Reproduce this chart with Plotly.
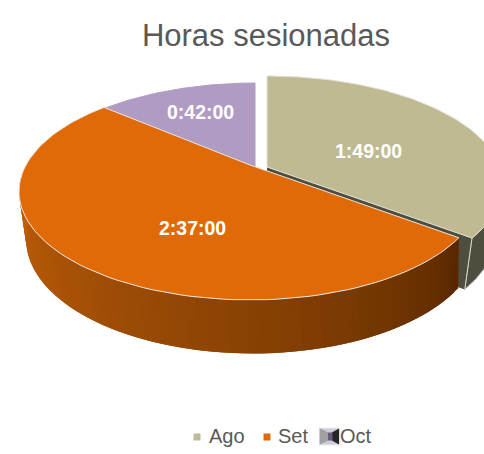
import numpy as np
import plotly.graph_objects as go

# horas sesionadas por mes, en minutos
months = ['Ago', 'Set', 'Oct']
minutes = [109, 157, 42]
labels = ['1:49:00', '2:37:00', '0:42:00']
colors = ['#C0BA93', '#E06A08', '#B09BC2']
wall_dark = '#4F4D3D'

W, H = 484, 454


def project(deg, r, plane):
    # circulo del pastel en perspectiva, angulo desde las 12 en sentido horario
    x0, y0, bx, ay, k = plane
    a = np.radians(deg)
    u, v = r * np.sin(a), -r * np.cos(a)
    w = 1 - k * v
    return x0 + bx * u / w, y0 + ay * v / w


def wedge(start, end, plane):
    ang = np.linspace(start, end, 90)
    x, y = project(ang, 1, plane)
    return [plane[0], *x, plane[0]], [plane[1], *y, plane[1]]


def poly(fig, x, y, fill, line=None, width=1):
    fig.add_trace(go.Scatter(x=x, y=y, mode='lines', fill='toself', fillcolor=fill,
                             line=dict(color=line or fill, width=width),
                             hoverinfo='skip', showlegend=False))


cuts = np.cumsum([0] + minutes) / sum(minutes) * 360

ago_top = (267, 167, 233, 105.6, 0.16)
ago_low = (266, 218, 226, 105.6, 0.16)
set_top = (250, 165, 224, 102, 0.244)
set_low = (253, 212, 220, 107, 0.244)
oct_top = (255, 168, 231, 105.7, 0.244)

fig = go.Figure()

# Oct
x, y = wedge(cuts[2], cuts[3], oct_top)
poly(fig, x, y, colors[2])

# Ago, paredes y tapa
ax1, ay1 = project(cuts[1], 1, ago_top)
ax2, ay2 = project(cuts[1], 1, ago_low)
poly(fig, [ago_top[0], ax1, ax2, ago_low[0]], [ago_top[1], ay1, ay2, ago_low[1]], wall_dark)
ang = np.linspace(90, cuts[1], 40)
tx, ty = project(ang, 1, ago_top)
bx, by = project(ang, 1, ago_low)
poly(fig, [*tx, *bx[::-1]], [*ty, *by[::-1]], wall_dark, '#8A8A80')
fig.add_trace(go.Scatter(x=[ax1, ax2], y=[ay1, ay2], mode='lines',
                         line=dict(color='#D8D8D0', width=1), hoverinfo='skip', showlegend=False))
x, y = wedge(cuts[0], cuts[1], ago_top)
poly(fig, x, y, colors[0], '#E4E4DC')

# Set, pared con degradado
steps = np.linspace(cuts[1], 270, 71)
left = np.array([198, 98, 10])
right = np.array([88, 40, 0])
for i in range(len(steps) - 1):
    # cada tramo pisa al siguiente para que no se vean costuras
    ang = np.linspace(steps[i], steps[min(i + 2, len(steps) - 1)], 4)
    tx, ty = project(ang, 1, set_top)
    bx, by = project(ang, 1, set_low)
    t = i / (len(steps) - 2)
    c = right + (left - right) * t ** 0.8
    c = 'rgb(%d,%d,%d)' % tuple(c)
    poly(fig, [*tx, *bx[::-1]], [*ty, *by[::-1]], c, width=0)
x, y = wedge(cuts[1], cuts[2], set_top)
poly(fig, x, y, colors[1], '#F0E6DC')

# etiquetas
label_pos = [(368, 151), (192, 228), (200, 112)]
for text, (lx, ly) in zip(labels, label_pos):
    fig.add_annotation(x=lx, y=ly, text=text, showarrow=False,
                       font=dict(family='Liberation Sans', size=19.5, color='white', weight='bold'))

# leyenda
legend_x = [197, 267]
for name, c, mx in zip(months[:2], colors[:2], legend_x):
    fig.add_trace(go.Scatter(x=[mx], y=[437], mode='markers', hoverinfo='skip', showlegend=False,
                             marker=dict(symbol='square', size=7, color=c)))
for name, tx in zip(months, [227, 293, 356]):
    fig.add_annotation(x=tx, y=436, text=name, showarrow=False,
                       font=dict(family='Liberation Sans', size=20, color='#595959'))

# icono raro de Oct
poly(fig, [319, 340, 340, 319], [428, 428, 445, 445], '#CFCAD3', '#EEEEEE')
poly(fig, [320, 328, 328, 320], [429, 433, 440, 444], '#A0A0A0')
poly(fig, [339, 332, 332, 339], [429, 433, 440, 444], '#262626')
poly(fig, [328, 332, 332, 328], [433, 433, 440, 440], '#6B5A80')

fig.update_layout(
    width=W, height=H, margin=dict(t=0, l=0, r=0, b=0),
    paper_bgcolor='white', plot_bgcolor='white', showlegend=False,
    xaxis=dict(range=[0, W], visible=False, fixedrange=True),
    yaxis=dict(range=[H, 0], visible=False, fixedrange=True),
    title=dict(text='Horas sesionadas', x=266 / W, xanchor='center', y=1 - 35 / H, yanchor='middle',
               font=dict(family='Liberation Sans', size=31, color='#595959')),
)

fig.write_html("out.html", config={'displayModeBar': False},
               post_script="document.body.style.margin='0';document.body.style.overflow='hidden';")
